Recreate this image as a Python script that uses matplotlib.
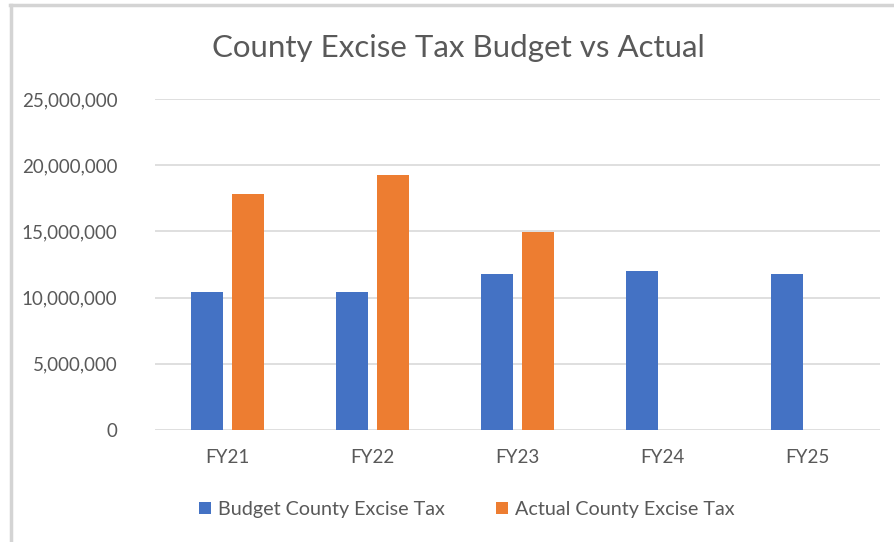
import numpy as np
import matplotlib.pyplot as plt
from matplotlib.lines import Line2D
from matplotlib.ticker import FuncFormatter

# Fiscal years and excise tax amounts
years = ['FY21', 'FY22', 'FY23', 'FY24', 'FY25']
budget = [10450000, 10450000, 11750000, 12000000, 11750000]
actual = [17800000, 19250000, 14950000, np.nan, np.nan]

plt.rcParams['font.family'] = ['Lato', 'DejaVu Sans']
text_color = '#595959'
blue = '#4472C4'
orange = '#ED7D31'

fig = plt.figure(figsize=(8.95, 5.42), dpi=100)
ax = fig.add_axes([0.173, 0.2066, 0.810, 0.6107])

x = np.arange(len(years))
width = 0.22
gap = 0.062
ax.bar(x - (width + gap) / 2, budget, width, color=blue,
       label='Budget County Excise Tax', zorder=3)
ax.bar(x + (width + gap) / 2, actual, width, color=orange,
       label='Actual County Excise Tax', zorder=3)

ax.set_xlim(-0.5, len(years) - 0.5)
ax.set_ylim(0, 25000000)
ax.set_yticks(np.arange(0, 25000001, 5000000))
ax.yaxis.set_major_formatter(FuncFormatter(lambda v, p: f'{int(v):,}'))
ax.set_xticks(x)
ax.set_xticklabels(years)

ax.grid(axis='y', color='#d9d9d9', linewidth=1.2, zorder=0)
for s in ax.spines.values():
    s.set_visible(False)
ax.tick_params(axis='both', length=0, colors=text_color, labelsize=13.5)
ax.tick_params(axis='y', pad=27)
ax.tick_params(axis='x', pad=14)

fig.text(0.512, 0.912, 'County Excise Tax Budget vs Actual', ha='center',
         va='center', fontsize=22.5, color=text_color)

ax.legend(loc='center', bbox_to_anchor=(0.43, -0.24), ncol=2, frameon=False,
          fontsize=14.2, labelcolor=text_color, handlelength=0.6,
          handleheight=0.6, handletextpad=0.35, columnspacing=2.6)

# thin frame along top and left edge
fig.add_artist(Line2D([10 / 895, 1], [1 - 5 / 542, 1 - 5 / 542],
                      color='#d4d4d4', linewidth=2.5))
fig.add_artist(Line2D([11 / 895, 11 / 895], [0, 1 - 5 / 542],
                      color='#d4d4d4', linewidth=2.5))

fig.savefig('out.png', dpi=100)
